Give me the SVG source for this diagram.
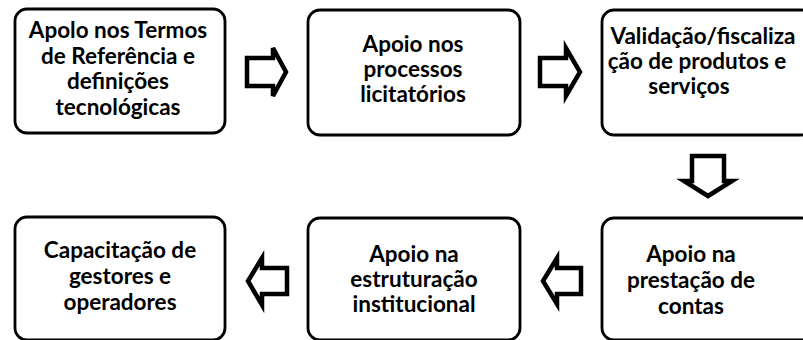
<svg xmlns="http://www.w3.org/2000/svg" width="803" height="340" viewBox="0 0 803 340">
<style>
.box{fill:#fff;stroke:#000;stroke-width:2.8}
.arr{fill:#fff;stroke:#000;stroke-width:4.5;stroke-linejoin:miter}
text{font-family:Lato,"Liberation Sans",sans-serif;font-weight:700;font-size:22.5px;fill:#000;text-anchor:middle}
</style>
<rect width="803" height="340" fill="#fff"/>
<g id="n1">
<rect class="box" x="15" y="9" width="210" height="124" rx="12"/>
<text x="118" y="38">Apolo nos Termos</text>
<text x="118" y="63.5">de Referência e</text>
<text x="118" y="89">definições</text>
<text x="118" y="114.5">tecnológicas</text>
</g>
<g id="n2">
<rect class="box" x="308" y="10" width="212" height="125" rx="12"/>
<text x="413" y="52">Apoio nos</text>
<text x="413" y="77">processos</text>
<text x="413" y="102">licitatórios</text>
</g>
<g id="n3">
<rect class="box" x="602" y="10" width="212" height="125" rx="12"/>
<text x="703" y="44">Validação/fiscaliza</text>
<text x="697" y="69">ção de produtos e</text>
<text x="689" y="94">serviços</text>
</g>
<g id="n4">
<rect class="box" x="602" y="218" width="212" height="122" rx="12"/>
<text x="691" y="262">Apoio na</text>
<text x="691" y="288">prestação de</text>
<text x="691" y="314">contas</text>
</g>
<g id="n5">
<rect class="box" x="308" y="218" width="212" height="122" rx="12"/>
<text x="414" y="262">Apoio na</text>
<text x="414" y="287">estruturação</text>
<text x="414" y="312">institucional</text>
</g>
<g id="n6">
<rect class="box" x="15" y="217" width="210" height="123" rx="12"/>
<text x="120" y="258">Capacitação de</text>
<text x="120" y="284">gestores e</text>
<text x="120" y="310">operadores</text>
</g>
<g id="connectors">
<path class="arr" d="M247,58 H273 V48 L286,72 L273,96 V86 H247 Z"/>
<path class="arr" d="M540,58 H566 V48 L580,72 L566,96 V86 H540 Z"/>
<path class="arr" d="M692,156 V181 H684 L708,196 L732,181 H724 V156 Z"/>
<path class="arr" d="M581,268 H557 V258 L543,281 L557,304 V294 H581 Z"/>
<path class="arr" d="M287,268 H262 V258 L248,281 L262,305 V294 H287 Z"/>
</g>
</svg>
